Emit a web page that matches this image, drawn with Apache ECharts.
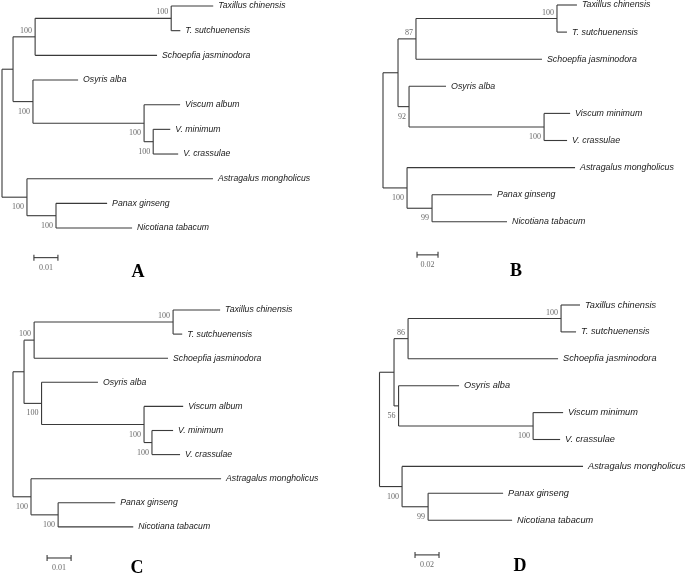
<!DOCTYPE html>
<html><head><meta charset="utf-8">
<script src="https://cdn.jsdelivr.net/npm/echarts@6/dist/echarts.min.js"></script>
<style>html,body{margin:0;padding:0;background:#fff}#c{width:685px;height:576px}</style>
</head><body><div id="c"></div>
<script>
// ---------- DATA ----------
// Topology shared by panels A and C (10 taxa); internal nodes named n1..n8
const nodesAC = ['root','n1','n2','n3','Taxillus chinensis','T. sutchuenensis','Schoepfia jasminodora','n4','Osyris alba','n5','Viscum album','n6','V. minimum','V. crassulae','n7','Astragalus mongholicus','n8','Panax ginseng','Nicotiana tabacum'];
const parentsAC = [-1,0,1,2,3,3,2,1,7,7,9,9,11,11,0,14,14,16,16];
// Topology shared by panels B and D (9 taxa)
const nodesBD = ['root','n1','n2','n3','Taxillus chinensis','T. sutchuenensis','Schoepfia jasminodora','n4','Osyris alba','n5','Viscum minimum','V. crassulae','n6','Astragalus mongholicus','n7','Panax ginseng','Nicotiana tabacum'];
const parentsBD = [-1,0,1,2,3,3,2,1,7,7,9,9,0,12,12,14,14];

// Branch lengths (substitutions/site)
const lengthsA = [0,0.0046,0.0092,0.0567,0.0175,0.0038,0.0508,0.0083,0.0188,0.0463,0.0150,0.0038,0.0071,0.0104,0.0104,0.0775,0.0121,0.0213,0.0317];
const lengthsC = [0,0.0046,0.0042,0.0579,0.0196,0.0038,0.0558,0.0073,0.0235,0.0427,0.0163,0.0033,0.0088,0.0117,0.0075,0.0792,0.0113,0.0238,0.0313];
const lengthsB = [0,0.0143,0.0171,0.1343,0.0190,0.0095,0.1200,0.0105,0.0352,0.1286,0.0248,0.0219,0.0229,0.1600,0.0238,0.0571,0.0714];
const lengthsD = [0,0.0121,0.0117,0.1275,0.0158,0.0125,0.1250,0.0038,0.0504,0.1121,0.0250,0.0225,0.0188,0.1508,0.0217,0.0625,0.0700];

// Bootstrap support
const supportA = [null,null,100,100,null,null,null,100,null,100,null,100,null,null,100,null,100,null,null];
const supportC = [null,null,100,100,null,null,null,100,null,100,null,100,null,null,100,null,100,null,null];
const supportB = [null,null,87,100,null,null,null,92,null,100,null,null,100,null,99,null,null];
const supportD = [null,null,86,100,null,null,null,56,null,100,null,null,100,null,99,null,null];

// Scale bars
const scaleLengths = [0.01, 0.02, 0.01, 0.02];
const scaleLabels = ['0.01', '0.02', '0.01', '0.02'];
const panelLetters = ['A', 'B', 'C', 'D'];

// ---------- LAYOUT (pixels / styles) ----------
const layout = [
  {left:2,   top:6,   xMax:0.1, pxPerUnit:2400, spacing:24.67, barX:0.0133, barY:10.2, letter:[138,272], tipFont:8.7},
  {left:383, top:5,   xMax:0.2, pxPerUnit:1050, spacing:27.1,  barX:0.0324, barY:9.22, letter:[516,271], tipFont:8.85},
  {left:13,  top:310, xMax:0.1, pxPerUnit:2400, spacing:24.1,  barX:0.0142, barY:10.29, letter:[137,568], tipFont:8.7},
  {left:379.5, top:305, xMax:0.2, pxPerUnit:1200, spacing:26.9, barX:0.0296, barY:9.29, letter:[520,566], tipFont:9.2}
];
const panels = [
  {nodes:nodesAC, parents:parentsAC, lengths:lengthsA, support:supportA},
  {nodes:nodesBD, parents:parentsBD, lengths:lengthsB, support:supportB},
  {nodes:nodesAC, parents:parentsAC, lengths:lengthsC, support:supportC},
  {nodes:nodesBD, parents:parentsBD, lengths:lengthsD, support:supportD}
];
const LINE = '#3a3a3a';
const TIPFONT = '"Liberation Sans", Arial, sans-serif';
const NUMFONT = '"Liberation Serif", "Times New Roman", serif';

function layoutTree(parents, lengths) {
  const n = parents.length;
  const children = Array.from({length:n}, () => []);
  parents.forEach((p, i) => { if (p >= 0) children[p].push(i); });
  const depth = new Array(n).fill(0), ypos = new Array(n).fill(0);
  let tip = 0;
  (function visit(i, d) {
    depth[i] = d + lengths[i];
    const cs = children[i];
    if (!cs.length) { ypos[i] = tip++; }
    else { cs.forEach(c => visit(c, depth[i])); ypos[i] = (ypos[cs[0]] + ypos[cs[cs.length - 1]]) / 2; }
  })(0, 0);
  return {children, depth, ypos, nTips: tip};
}

const grids = [], xAxes = [], yAxes = [], series = [], graphics = [];
panels.forEach((pn, k) => {
  const L = layout[k];
  const t = layoutTree(pn.parents, pn.lengths);
  const yMax = t.nTips + 1;
  grids.push({left: L.left, top: L.top, width: L.xMax * L.pxPerUnit, height: yMax * L.spacing});
  xAxes.push({type:'value', gridIndex:k, min:0, max:L.xMax, show:false});
  yAxes.push({type:'value', gridIndex:k, min:0, max:yMax, inverse:true, show:false});

  // segments
  const segs = [];
  pn.parents.forEach((p, i) => {
    if (p >= 0) segs.push([t.depth[p], t.ypos[i], t.depth[i], t.ypos[i]]);
    const cs = t.children[i];
    if (cs.length) segs.push([t.depth[i], t.ypos[cs[0]], t.depth[i], t.ypos[cs[cs.length - 1]]]);
  });
  series.push({
    type:'custom', xAxisIndex:k, yAxisIndex:k, clip:false, silent:true,
    data: segs,
    renderItem: (params, api) => {
      const a = api.coord([api.value(0), api.value(1)]);
      const b = api.coord([api.value(2), api.value(3)]);
      return {type:'line', shape:{x1:a[0], y1:a[1], x2:b[0], y2:b[1]}, style:{stroke:LINE, lineWidth:1.1}};
    }
  });

  // tip labels
  const tipIdx = [];
  pn.parents.forEach((p, i) => { if (!t.children[i].length) tipIdx.push(i); });
  series.push({
    type:'custom', xAxisIndex:k, yAxisIndex:k, clip:false, silent:true,
    data: tipIdx.map(i => [t.depth[i], t.ypos[i]]),
    renderItem: (params, api) => {
      const a = api.coord([api.value(0), api.value(1)]);
      return {type:'text', x:a[0] + 5, y:a[1], style:{text: pn.nodes[tipIdx[params.dataIndex]], align:'left', verticalAlign:'middle', fill:'#1a1a1a', font:'italic ' + L.tipFont + 'px ' + TIPFONT}};
    }
  });

  // support labels
  const supIdx = [];
  pn.support.forEach((s, i) => { if (s != null) supIdx.push(i); });
  series.push({
    type:'custom', xAxisIndex:k, yAxisIndex:k, clip:false, silent:true,
    data: supIdx.map(i => [t.depth[i], t.ypos[i]]),
    renderItem: (params, api) => {
      const i = supIdx[params.dataIndex];
      const a = api.coord([api.value(0), api.value(1)]);
      const p = pn.parents[i];
      const upper = t.children[p][0] === i;
      return {type:'text', x:a[0] - 3, y:a[1] + (upper ? -6 : 10), style:{text: String(pn.support[i]), align:'right', verticalAlign:'middle', fill:'#6a6a6a', font:'8px ' + NUMFONT}};
    }
  });

  // scale bar
  series.push({
    type:'custom', xAxisIndex:k, yAxisIndex:k, clip:false, silent:true,
    data: [[L.barX, L.barY, L.barX + scaleLengths[k]]],
    renderItem: (params, api) => {
      const a = api.coord([api.value(0), api.value(1)]);
      const b = api.coord([api.value(2), api.value(1)]);
      const st = {stroke:LINE, lineWidth:1.1};
      return {type:'group', children:[
        {type:'line', shape:{x1:a[0], y1:a[1], x2:b[0], y2:b[1]}, style:st},
        {type:'line', shape:{x1:a[0], y1:a[1] - 3, x2:a[0], y2:a[1] + 3}, style:st},
        {type:'line', shape:{x1:b[0], y1:b[1] - 3, x2:b[0], y2:b[1] + 3}, style:st},
        {type:'text', x:(a[0] + b[0]) / 2, y:a[1] + 10, style:{text: scaleLabels[k], align:'center', verticalAlign:'middle', fill:'#6a6a6a', font:'8px ' + NUMFONT}}
      ]};
    }
  });

  graphics.push({type:'text', x:L.letter[0], y:L.letter[1], style:{text: panelLetters[k], align:'center', verticalAlign:'middle', fill:'#000', font:'bold 18px ' + NUMFONT}});
});

const chart = echarts.init(document.getElementById('c'), null, {renderer:'canvas'});
chart.setOption({
  animation:false,
  backgroundColor:'#fff',
  grid: grids, xAxis: xAxes, yAxis: yAxes, series: series, graphic: graphics
});
</script>
</body></html>
